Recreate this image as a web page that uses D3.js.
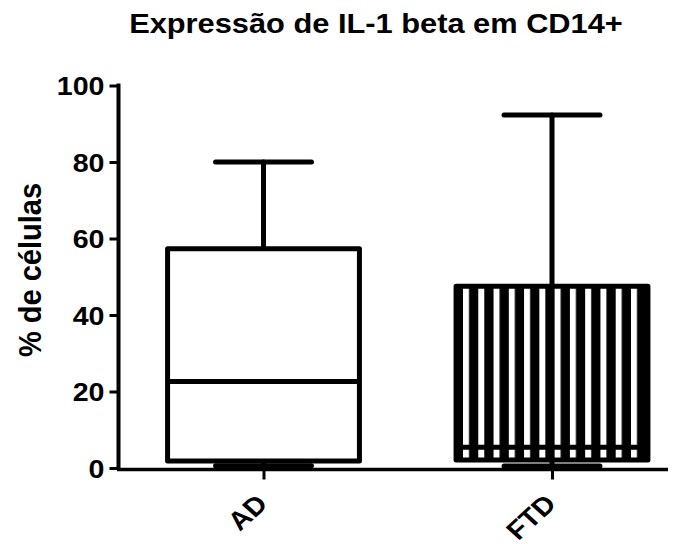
<!DOCTYPE html>
<html lang="en">
    <head>
        <meta charset="utf-8">
        <title>Box plot</title>
        <script type="text/javascript" src="https://d3js.org/d3.v7.min.js"></script>
        <style type="text/css">
          body{ margin: 0; }
          svg{ background-color: #ffffff; }
          text{
            font-family: "Liberation Sans", Arial, sans-serif;
            font-weight: bold;
            fill: #000;
          }
          .title{ font-size: 28px; }
          .ylabel{ font-size: 29px; }
          .box{ fill: #fff; stroke: #000; stroke-width: 5; stroke-linejoin: round; }
          .whisk{ stroke: #000; stroke-width: 5; stroke-linecap: round; }
        </style>
    </head>
    <body>
    	<div id="chart"></div>
        <script type="text/javascript">

            // data
            const categories = ["AD", "FTD"];
            const lows = [0.6, 0.5];
            const q1s = [1.8, 2.1];
            const medians = [22.6, 5.4];
            const q3s = [57.3, 47.5];
            const highs = [80.0, 92.3];
            const yTicks = [0, 20, 40, 60, 80, 100];
            const patterned = [false, true];

            const w = 684;
            const h = 544;
            const stretch = 1.1; // text in the picture is a bit wide

            const svg = d3.select("#chart")
                          .append("svg")
                          .attr("width", w)
                          .attr("height", h);

            const y = d3.scaleLinear().domain([0, 100]).range([468, 85.5]);
            const x = d3.scalePoint().domain(categories).range([263.5, 552]);
            const boxW = x.step() * 0.665;
            const capW = boxW / 2;

            // vertical stripes for FTD
            const pat = svg.append("defs")
                           .append("pattern")
                           .attr("id", "stripes")
                           .attr("patternUnits", "userSpaceOnUse")
                           .attr("x", 463)
                           .attr("y", 0)
                           .attr("width", 15.27)
                           .attr("height", 20);
            pat.append("rect").attr("width", 15.27).attr("height", 20).attr("fill", "#000");
            pat.append("rect").attr("width", 6).attr("height", 20).attr("fill", "#fff");

            //title
            svg.append("text")
               .attr("class", "title")
               .attr("text-anchor", "middle")
               .attr("transform", `translate(376,33) scale(${stretch},1)`)
               .text("Expressão de IL-1 beta em CD14+");

            //y axis
            const yAxis = svg.append("g")
                             .attr("transform", "translate(118.5,0)")
                             .call(d3.axisLeft(y).tickValues(yTicks).tickSize(9).tickSizeOuter(0).tickPadding(5));
            yAxis.select(".domain").attr("stroke-width", 4).attr("d", `M0,${y(100) - 2}V${y(0)}`);
            yAxis.selectAll(".tick line").attr("stroke-width", 3);
            yAxis.selectAll(".tick text")
                 .attr("x", null)
                 .attr("transform", `translate(-14,0) scale(${stretch},1)`)
                 .attr("dy", "0.36em")
                 .style("font-size", "26px");

            svg.append("text")
               .attr("class", "ylabel")
               .attr("text-anchor", "middle")
               .attr("transform", `translate(41,270) scale(${stretch},1) rotate(-90)`)
               .text("% de células");

            //x axis
            const xAxis = svg.append("g")
                             .attr("transform", `translate(0,${y(0) + 1.5})`)
                             .call(d3.axisBottom(x).tickSize(10).tickSizeOuter(0));
            xAxis.select(".domain").attr("stroke-width", 3.5).attr("d", "M117,0H668");
            xAxis.selectAll(".tick line").attr("stroke-width", 3);
            xAxis.selectAll(".tick text")
                 .attr("y", null)
                 .attr("dy", null)
                 .attr("text-anchor", "end")
                 .attr("transform", `translate(5,36) scale(${stretch},1) rotate(-45)`)
                 .style("font-size", "26px");

            const idx = d3.range(categories.length);

            //whiskers
            svg.selectAll(".stem")
               .data(idx)
               .enter()
               .append("line")
               .attr("class", "whisk stem")
               .attr("x1", i => x(categories[i]))
               .attr("x2", i => x(categories[i]))
               .attr("y1", i => y(highs[i]))
               .attr("y2", i => y(lows[i]));

            svg.selectAll(".cap")
               .data(idx.flatMap(i => [highs[i], lows[i]].map(v => ({i, v}))))
               .enter()
               .append("line")
               .attr("class", "whisk cap")
               .attr("x1", d => x(categories[d.i]) - capW / 2)
               .attr("x2", d => x(categories[d.i]) + capW / 2)
               .attr("y1", d => y(d.v))
               .attr("y2", d => y(d.v));

            //boxes
            svg.selectAll(".box")
               .data(idx)
               .enter()
               .append("rect")
               .attr("class", "box")
               .attr("x", i => x(categories[i]) - boxW / 2)
               .attr("y", i => y(q3s[i]))
               .attr("width", boxW)
               .attr("height", i => y(q1s[i]) - y(q3s[i]))
               .style("fill", i => patterned[i] ? "url(#stripes)" : "#fff");

            //medians
            svg.selectAll(".med")
               .data(idx)
               .enter()
               .append("line")
               .attr("class", "whisk med")
               .attr("stroke-linecap", "butt")
               .style("stroke-linecap", "butt")
               .attr("x1", i => x(categories[i]) - boxW / 2)
               .attr("x2", i => x(categories[i]) + boxW / 2)
               .attr("y1", i => y(medians[i]))
               .attr("y2", i => y(medians[i]));

        </script>
    </body>
</html>
